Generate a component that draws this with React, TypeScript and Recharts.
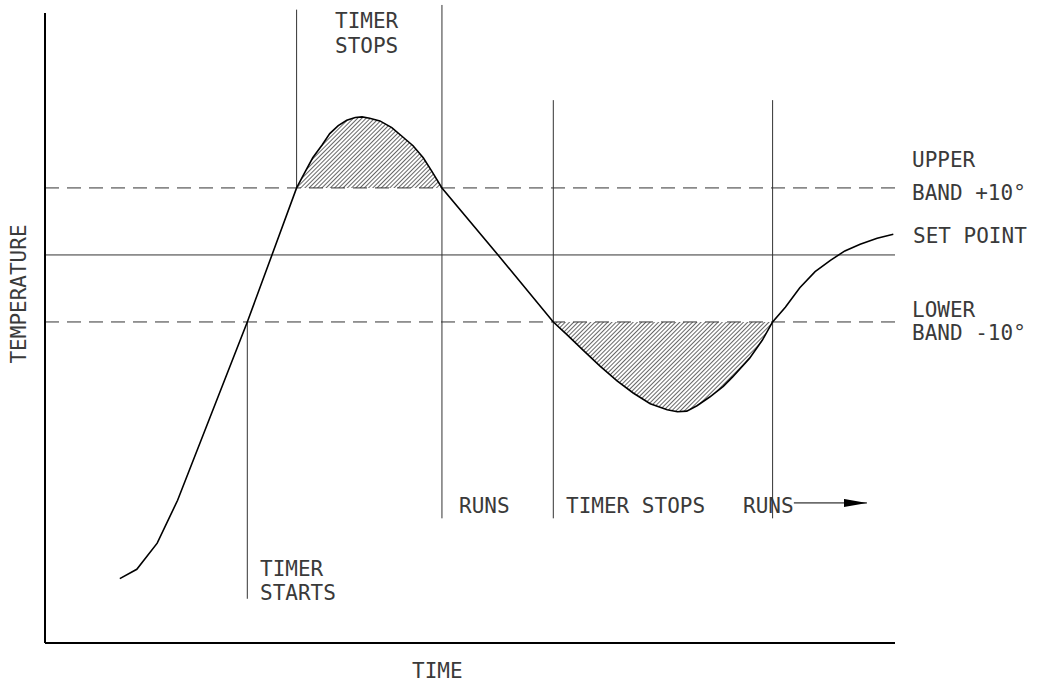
import { Area, ComposedChart, Line, ReferenceLine, XAxis, YAxis } from "recharts";

// time (0..100) vs temperature offset from set point (deg)
const TIME = [
  8.8, 10.8, 13.2, 15.6, 23.8, 26.7, 29.6, 30.6, 31.5, 32.6, 33.5, 34.5, 35.5, 36.5, 37.3, 38.2, 39.4, 40.8, 42.1,
  43.3, 44.5, 45.5, 46.7, 53.3, 59.8, 61.4, 63.3, 65.3, 67.3, 69.2, 71.2, 73.2, 74.4, 75.5, 76.7, 78.2, 79.8, 80.9,
  82.9, 84.4, 85.6, 87.1, 88.8, 90.6, 92.4, 94.1, 95.9, 97.9, 99.8,
];
const TEMP = [
  -48.3, -46.9, -43.0, -36.6, -10, 0, 10, 12.4, 14.5, 16.4, 18.1, 19.3, 20.1, 20.5, 20.6, 20.4, 20.0, 19.0, 17.6,
  16.3, 14.5, 12.5, 10, 0, -10, -11.9, -14.2, -16.6, -18.8, -20.6, -22.2, -23.1, -23.4, -23.3, -22.5, -21.2, -19.6,
  -18.2, -15.4, -12.7, -10, -7.8, -4.9, -2.5, -0.8, 0.6, 1.6, 2.5, 3.1,
];

const SET_POINT = 0;
const UPPER_BAND = 10;
const LOWER_BAND = -10;

// vertical markers: time, bottom, top
const MARKER_T = [23.8, 29.6, 46.7, 59.8, 85.6];
const MARKER_FROM = [-51.3, 10, -39.3, -39.3, -39.3];
const MARKER_TO = [-10, 36.6, 37.3, 23.1, 23.1];

const ARROW_Y = -37;
const ARROW_T = [88.1, 96.7];

const INK = "#333";
const FONT = { fontFamily: "DejaVu Sans Mono", fontSize: 21, fill: "#3a3a3a" } as const;

const curve = TIME.map((t, i) => ({ t, temp: TEMP[i] }));
const overshoot = curve
  .filter((d) => d.t >= 29.6 && d.t <= 46.7)
  .map((d) => ({ t: d.t, band: [UPPER_BAND, d.temp] }));
const undershoot = curve
  .filter((d) => d.t >= 59.8 && d.t <= 85.6)
  .map((d) => ({ t: d.t, band: [d.temp, LOWER_BAND] }));

export default function App() {
  return (
    <div style={{ position: "absolute", left: 0, top: 0, background: "#fff" }}>
      <ComposedChart width={1037} height={683} margin={{ top: 13, right: 142, bottom: 10, left: 15 }}>
        <defs>
          <pattern id="hatch" patternUnits="userSpaceOnUse" width="3" height="3" patternTransform="rotate(45)">
            <line x1="0" y1="0" x2="0" y2="3" stroke="#000" strokeWidth={1.2} />
          </pattern>
          <marker id="arrowHead" markerUnits="userSpaceOnUse" markerWidth="23" markerHeight="8" viewBox="0 0 23 8" refX="23" refY="4" orient="auto">
            <path d="M0,0 L23,4 L0,8 z" fill="#000" />
          </marker>
        </defs>
        <XAxis
          type="number"
          dataKey="t"
          domain={[0, 100]}
          allowDataOverflow
          tick={false}
          tickLine={false}
          axisLine={{ stroke: "#000", strokeWidth: 2 }}
          height={30}
        />
        <YAxis
          type="number"
          domain={[-57.9, 36.1]}
          allowDataOverflow
          tick={false}
          tickLine={false}
          axisLine={{ stroke: "#000", strokeWidth: 2 }}
          width={30}
        />
        <ReferenceLine y={UPPER_BAND} stroke={INK} strokeDasharray="14 8" />
        <ReferenceLine y={SET_POINT} stroke={INK} />
        <ReferenceLine y={LOWER_BAND} stroke={INK} strokeDasharray="14 8" />
        {MARKER_T.map((t, i) => (
          <ReferenceLine
            key={t}
            segment={[
              { x: t, y: MARKER_FROM[i] },
              { x: t, y: MARKER_TO[i] },
            ]}
            stroke={INK}
            ifOverflow="visible"
          />
        ))}
        <ReferenceLine
          segment={[
            { x: ARROW_T[0], y: ARROW_Y },
            { x: ARROW_T[1], y: ARROW_Y },
          ]}
          stroke="#000"
          markerEnd="url(#arrowHead)"
          ifOverflow="visible"
        />
        <Area
          data={overshoot}
          dataKey="band"
          type="linear"
          stroke="none"
          fill="url(#hatch)"
          fillOpacity={1}
          isAnimationActive={false}
        />
        <Area
          data={undershoot}
          dataKey="band"
          type="linear"
          stroke="none"
          fill="url(#hatch)"
          fillOpacity={1}
          isAnimationActive={false}
        />
        <Line
          data={curve}
          dataKey="temp"
          type="linear"
          stroke="#000"
          strokeWidth={1.6}
          dot={false}
          isAnimationActive={false}
        />
        <g>
          <text x={335} y={28} {...FONT}>TIMER</text>
          <text x={335} y={53} {...FONT}>STOPS</text>
          <text x={912} y={167} {...FONT}>UPPER</text>
          <text x={912} y={200} {...FONT}>BAND +10°</text>
          <text x={913} y={243} {...FONT}>SET POINT</text>
          <text x={912} y={317} {...FONT}>LOWER</text>
          <text x={912} y={340} {...FONT}>BAND -10°</text>
          <text x={260} y={576} {...FONT}>TIMER</text>
          <text x={260} y={600} {...FONT}>STARTS</text>
          <text x={459} y={513} {...FONT}>RUNS</text>
          <text x={566} y={513} {...FONT}>TIMER STOPS</text>
          <text x={743} y={513} {...FONT}>RUNS</text>
          <text x={412} y={678} {...FONT}>TIME</text>
          <text transform="translate(26,294) rotate(-90)" textAnchor="middle" {...FONT}>TEMPERATURE</text>
        </g>
      </ComposedChart>
    </div>
  );
}
